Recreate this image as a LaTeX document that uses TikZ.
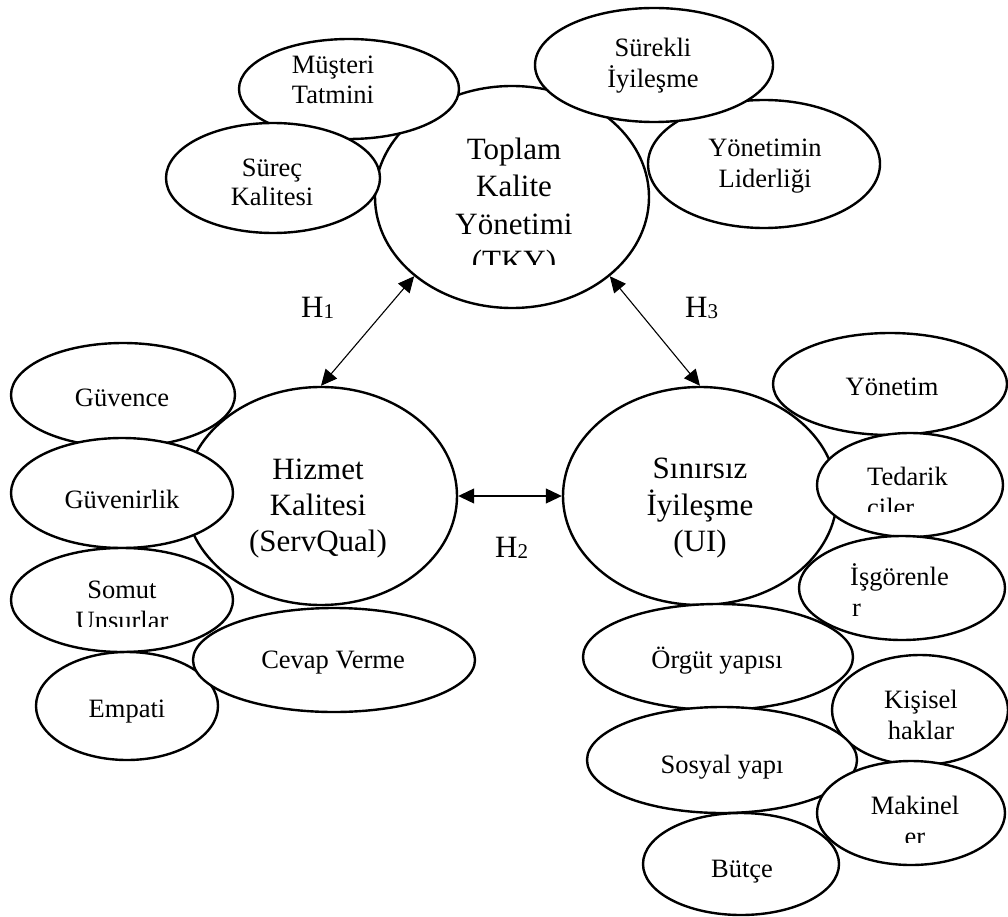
\documentclass[tikz,border=0pt]{standalone}
\usepackage{fontspec}
\setmainfont{Liberation Serif}
\usetikzlibrary{shapes.geometric,arrows.meta}

% small index digit used in the hypothesis labels
\newcommand\hypidx[1]{\raisebox{-1.5pt}{\fontsize{21}{21}\selectfont #1}}

\tikzset{
  bub/.style args={#1/#2}{ellipse, draw, line width=2.4pt, fill=white,
    inner sep=0pt, minimum width=#1pt, minimum height=#2pt},
  sm/.style={font=\fontsize{26.5}{30}\selectfont, inner sep=0pt, anchor=base},
  smw/.style={sm, anchor=base west},
  lg/.style={font=\fontsize{31}{36}\selectfont, inner sep=0pt, anchor=base},
  link/.style={line width=1.1pt,
    {Triangle[length=16pt,width=15pt]}-{Triangle[length=16pt,width=15pt]}},
}

\begin{document}
\begin{tikzpicture}[x=1pt,y=-1pt]
\useasboundingbox (0,0) rectangle (1008,917);

% ---- central constructs ----
\node[bub=274/222] (tky) at (512,197) {};
\node[lg] (tky1) at (514,160) {Toplam};
\node[lg] (tky2) at (514,197) {Kalite};
\node[lg] (tky3) at (514,234) {Yönetimi};
\begin{scope}
  \clip (420,240) rectangle (610,264);
  \node[lg] (tky4) at (514,271) {(TKY)};
\end{scope}

\node[bub=272/218] (hiz) at (321,496) {};
\node[lg] (hiz1) at (318,479) {Hizmet};
\node[lg] (hiz2) at (318,515) {Kalitesi};
\node[lg] (hiz3) at (318,551) {(ServQual)};

\node[bub=274/218] (ui) at (700,496) {};
\node[lg] (ui1) at (700,478) {Sınırsız};
\node[lg] (ui2) at (700,515) {İyileşme};
\node[lg] (ui3) at (700,551) {(UI)};

% ---- hypotheses ----
\draw[link] (tky.219) -- (hiz.90);
\draw[link] (tky.321) -- (ui.90);
\draw[link] (hiz.0) -- (ui.180);
\node[lg, anchor=base west] (h1) at (301,317) {H\hypidx{1}};
\node[lg, anchor=base west] (h3) at (685,317) {H\hypidx{3}};
\node[lg, anchor=base west] (h2) at (495,557) {H\hypidx{2}};

% ---- TKY dimensions ----
\node[bub=220/100] (mus) at (349,89) {};
\node[sm] (mus1) at (333,74) {Müşteri};
\node[sm] (mus2) at (333,104) {Tatmini};

\node[bub=214/110] (surec) at (273,178) {};
\node[sm] (surec1) at (272,177) {Süreç};
\node[sm] (surec2) at (272,206) {Kalitesi};

\node[bub=232/128] (lid) at (764,164) {};
\node[sm] (lid1) at (765,157) {Yönetimin};
\node[sm] (lid2) at (765,188) {Liderliği};

\node[bub=238/114] (sur) at (654,65) {};
\node[sm] (sur1) at (653,57) {Sürekli};
\node[sm] (sur2) at (653,88) {İyileşme};

% ---- ServQual dimensions ----
\node[bub=224/104] (guv) at (123,395) {};
\node[sm] (guv1) at (122,406) {Güvence};

\node[bub=222/110] (gir) at (122,493) {};
\node[sm] (gir1) at (122,508) {Güvenirlik};

\node[bub=222/104] (som) at (122,600) {};
\node[sm] (som1) at (122,598) {Somut};
\begin{scope}
  \clip (40,605) rectangle (210,626);
  \node[sm] (som2) at (122,629) {Unsurlar};
\end{scope}

\node[bub=182/108] (emp) at (127,706) {};
\node[sm] (emp1) at (127,717) {Empati};

\node[bub=282/104] (cev) at (334,660) {};
\node[sm] (cev1) at (333,668) {Cevap Verme};

% ---- UI dimensions ----
\node[bub=234/102] (yon) at (890,384) {};
\node[sm] (yon1) at (892,395) {Yönetim};

\node[bub=186/104] (ted) at (910,485) {};
\node[smw] (ted1) at (867,485) {Tedarik};
\begin{scope}
  \clip (860,490) rectangle (960,511);
  \node[smw] (ted2) at (867,516) {ciler};
\end{scope}

\node[bub=206/104] (isg) at (902,588) {};
\node[smw] (isg1) at (850,585) {İşgörenle};
\node[smw] (isg2) at (852,616) {r};

\node[bub=270/106] (org) at (718,657) {};
\node[sm] (org1) at (717,668) {Örgüt yapısı};

\node[bub=176/110] (kis) at (920,710) {};
\node[sm] (kis1) at (921,708) {Kişisel};
\node[sm] (kis2) at (921,739) {haklar};

\node[bub=270/106] (sos) at (722,760) {};
\node[sm] (sos1) at (722,773) {Sosyal yapı};

\node[bub=196/102] (but) at (741,864) {};
\node[sm] (but1) at (742,877) {Bütçe};

\node[bub=188/104] (mak) at (911,813) {};
\node[sm] (mak1) at (915,814) {Makinel};
\begin{scope}
  \clip (880,820) rectangle (950,842);
  \node[sm] (mak2) at (915,845) {er};
\end{scope}

\end{tikzpicture}
\end{document}
